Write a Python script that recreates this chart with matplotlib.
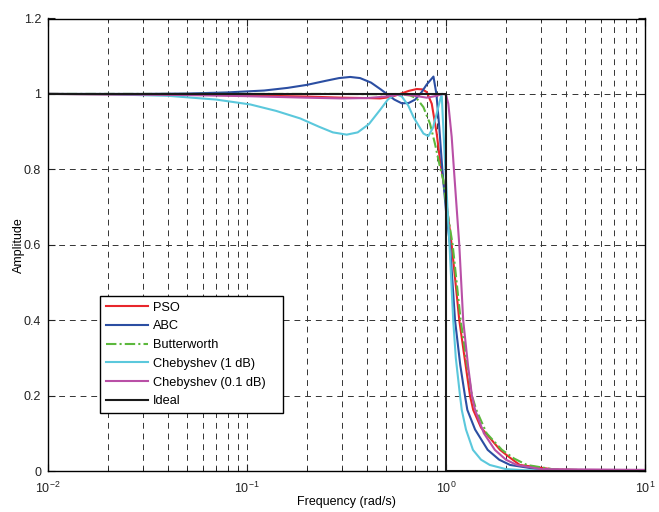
import matplotlib
matplotlib.use("Agg")
import matplotlib.pyplot as plt
from matplotlib.ticker import LogLocator, FixedLocator, NullFormatter

plt.rcParams['font.family'] = ['Liberation Sans', 'DejaVu Sans']
plt.rcParams['mathtext.default'] = 'regular'

# ---- data ----
w_pso = [0.01, 0.05, 0.1, 0.2, 0.3, 0.4, 0.467, 0.53, 0.588, 0.65, 0.713, 0.76, 0.8, 0.848, 0.898,
         0.933, 0.969, 1.0, 1.068, 1.166, 1.24, 1.32, 1.37, 1.5, 1.87, 2.1, 2.35, 3.5, 6, 10]
a_pso = [1.0, 0.998, 0.996, 0.993, 0.99, 0.989, 0.988, 0.992, 1.0, 1.008, 1.013, 1.012, 1.005, 0.974, 0.895,
         0.824, 0.771, 0.72, 0.60, 0.40, 0.30, 0.20, 0.162, 0.115, 0.056, 0.035, 0.016, 0.004, 0.001, 0.0]

w_abc = [0.01, 0.03, 0.05, 0.08, 0.122, 0.16, 0.2, 0.25, 0.29, 0.33, 0.37, 0.42, 0.47, 0.504, 0.55,
         0.6, 0.65, 0.70, 0.755, 0.80, 0.865, 0.895, 0.925, 0.951, 0.969, 1.0, 1.047, 1.11, 1.18, 1.245,
         1.28, 1.4, 1.62, 1.85, 2.1, 2.8, 4, 10]
a_abc = [1.0, 1.0, 1.001, 1.004, 1.009, 1.016, 1.024, 1.035, 1.042, 1.045, 1.042, 1.03, 1.012, 1.0, 0.985,
         0.975, 0.976, 0.985, 1.005, 1.025, 1.046, 1.0, 0.912, 0.824, 0.77, 0.69, 0.60, 0.40, 0.28, 0.20,
         0.162, 0.11, 0.056, 0.03, 0.016, 0.006, 0.002, 0.0]

w_butter = [0.01, 0.1, 0.3, 0.5, 0.6, 0.66, 0.713, 0.77, 0.831, 0.88, 0.933, 0.969, 1.0, 1.08, 1.185,
            1.27, 1.35, 1.42, 1.6, 1.91, 2.2, 2.55, 3.5, 10]
a_butter = [1.0, 1.0, 1.0, 0.999, 0.998, 0.996, 0.988, 0.965, 0.921, 0.868, 0.806, 0.771, 0.71, 0.60, 0.40,
            0.29, 0.20, 0.162, 0.10, 0.056, 0.033, 0.016, 0.004, 0.0]

w_cheb1 = [0.01, 0.02, 0.04, 0.07, 0.104, 0.14, 0.185, 0.23, 0.27, 0.317, 0.36, 0.41, 0.467, 0.51, 0.555,
           0.6, 0.645, 0.686, 0.73, 0.77, 0.815, 0.86, 0.898, 0.93, 0.951, 0.969, 0.988, 1.041, 1.087, 1.12,
           1.176, 1.2, 1.26, 1.366, 1.5, 1.66, 2.0, 2.5, 3, 10]
a_cheb1 = [1.0, 0.999, 0.995, 0.985, 0.972, 0.955, 0.935, 0.913, 0.898, 0.892, 0.898, 0.92, 0.958, 0.985, 1.0,
           0.993, 0.97, 0.939, 0.915, 0.895, 0.888, 0.91, 0.948, 0.98, 1.0, 0.912, 0.824, 0.60, 0.40, 0.30,
           0.20, 0.162, 0.11, 0.056, 0.03, 0.016, 0.005, 0.002, 0.001, 0.0]

w_cheb01 = [0.01, 0.05, 0.1, 0.2, 0.3, 0.4, 0.5, 0.6, 0.7, 0.8, 0.9, 0.96, 1.0, 1.027, 1.068,
            1.097, 1.166, 1.22, 1.29, 1.35, 1.40, 1.55, 1.76, 2.0, 2.27, 3.0, 10]
a_cheb01 = [1.0, 0.997, 0.994, 0.99, 0.988, 0.989, 0.993, 0.999, 0.995, 0.99, 0.995, 1.0, 0.998, 0.974, 0.886,
            0.797, 0.60, 0.40, 0.28, 0.20, 0.162, 0.10, 0.056, 0.03, 0.016, 0.005, 0.003]

w_ideal = [0.01, 1.0, 1.0, 10]
a_ideal = [1.0, 1.0, 0.0, 0.0]

labels = ["PSO", "ABC", "Butterworth", "Chebyshev (1 dB)", "Chebyshev (0.1 dB)", "Ideal"]
y_ticks = [0, 0.2, 0.4, 0.6, 0.8, 1.0, 1.2]
y_tick_labels = ["0", "0.2", "0.4", "0.6", "0.8", "1", "1.2"]

# ---- figure ----
fig = plt.figure(figsize=(6.59, 5.12), dpi=100)
ax = fig.add_axes([48 / 659, 41 / 512, 597 / 659, 452.5 / 512])

series = [
    (w_pso, a_pso, '#e8262b', '-'),
    (w_abc, a_abc, '#2b4ea2', '-'),
    (w_butter, a_butter, '#5cb83c', (0, (5, 1.5, 1, 1.5))),
    (w_cheb1, a_cheb1, '#5bc8dc', '-'),
    (w_cheb01, a_cheb01, '#b94fa6', '-'),
    (w_ideal, a_ideal, '#1a1a1a', '-'),
]
for (w, a, c, ls), lab in zip(series, labels):
    ax.plot(w, a, color=c, linestyle=ls, linewidth=1.5, label=lab)

ax.set_xscale('log')
ax.set_xlim(0.01, 10)
ax.set_ylim(0, 1.2)
ax.yaxis.set_major_locator(FixedLocator(y_ticks))
ax.set_yticklabels(y_tick_labels)
ax.xaxis.set_major_locator(LogLocator(base=10, numticks=10))
ax.xaxis.set_minor_locator(LogLocator(base=10, subs=range(2, 10), numticks=100))
ax.xaxis.set_minor_formatter(NullFormatter())

gridkw = dict(color='#333333', linestyle=(0, (6, 5)), linewidth=0.7)
ax.grid(True, which='major', axis='both', **gridkw)
ax.grid(True, which='minor', axis='x', **gridkw)
ax.set_axisbelow(True)

ax.tick_params(which='both', direction='in', top=True, right=True, labelsize=9, colors='#222222')
ax.tick_params(which='major', length=5)
ax.tick_params(which='minor', length=3)
ax.tick_params(axis='x', which='major', pad=7)
ax.tick_params(axis='y', which='major', pad=5)
for s in ax.spines.values():
    s.set_linewidth(1.0)

ax.set_xlabel("Frequency (rad/s)", fontsize=9, labelpad=0)
ax.set_ylabel("Amplitude", fontsize=9, labelpad=-1)

leg = ax.legend(loc='upper left', bbox_to_anchor=(0.087, 0.135, 0.3065, 0.252), mode='expand',
                borderaxespad=0, fancybox=False, edgecolor='black', framealpha=1, fontsize=9.2,
                handlelength=3.3, labelspacing=0.53, borderpad=0.45, handletextpad=0.4)
leg.get_frame().set_linewidth(1.0)

fig.savefig("out.png", dpi=100)
